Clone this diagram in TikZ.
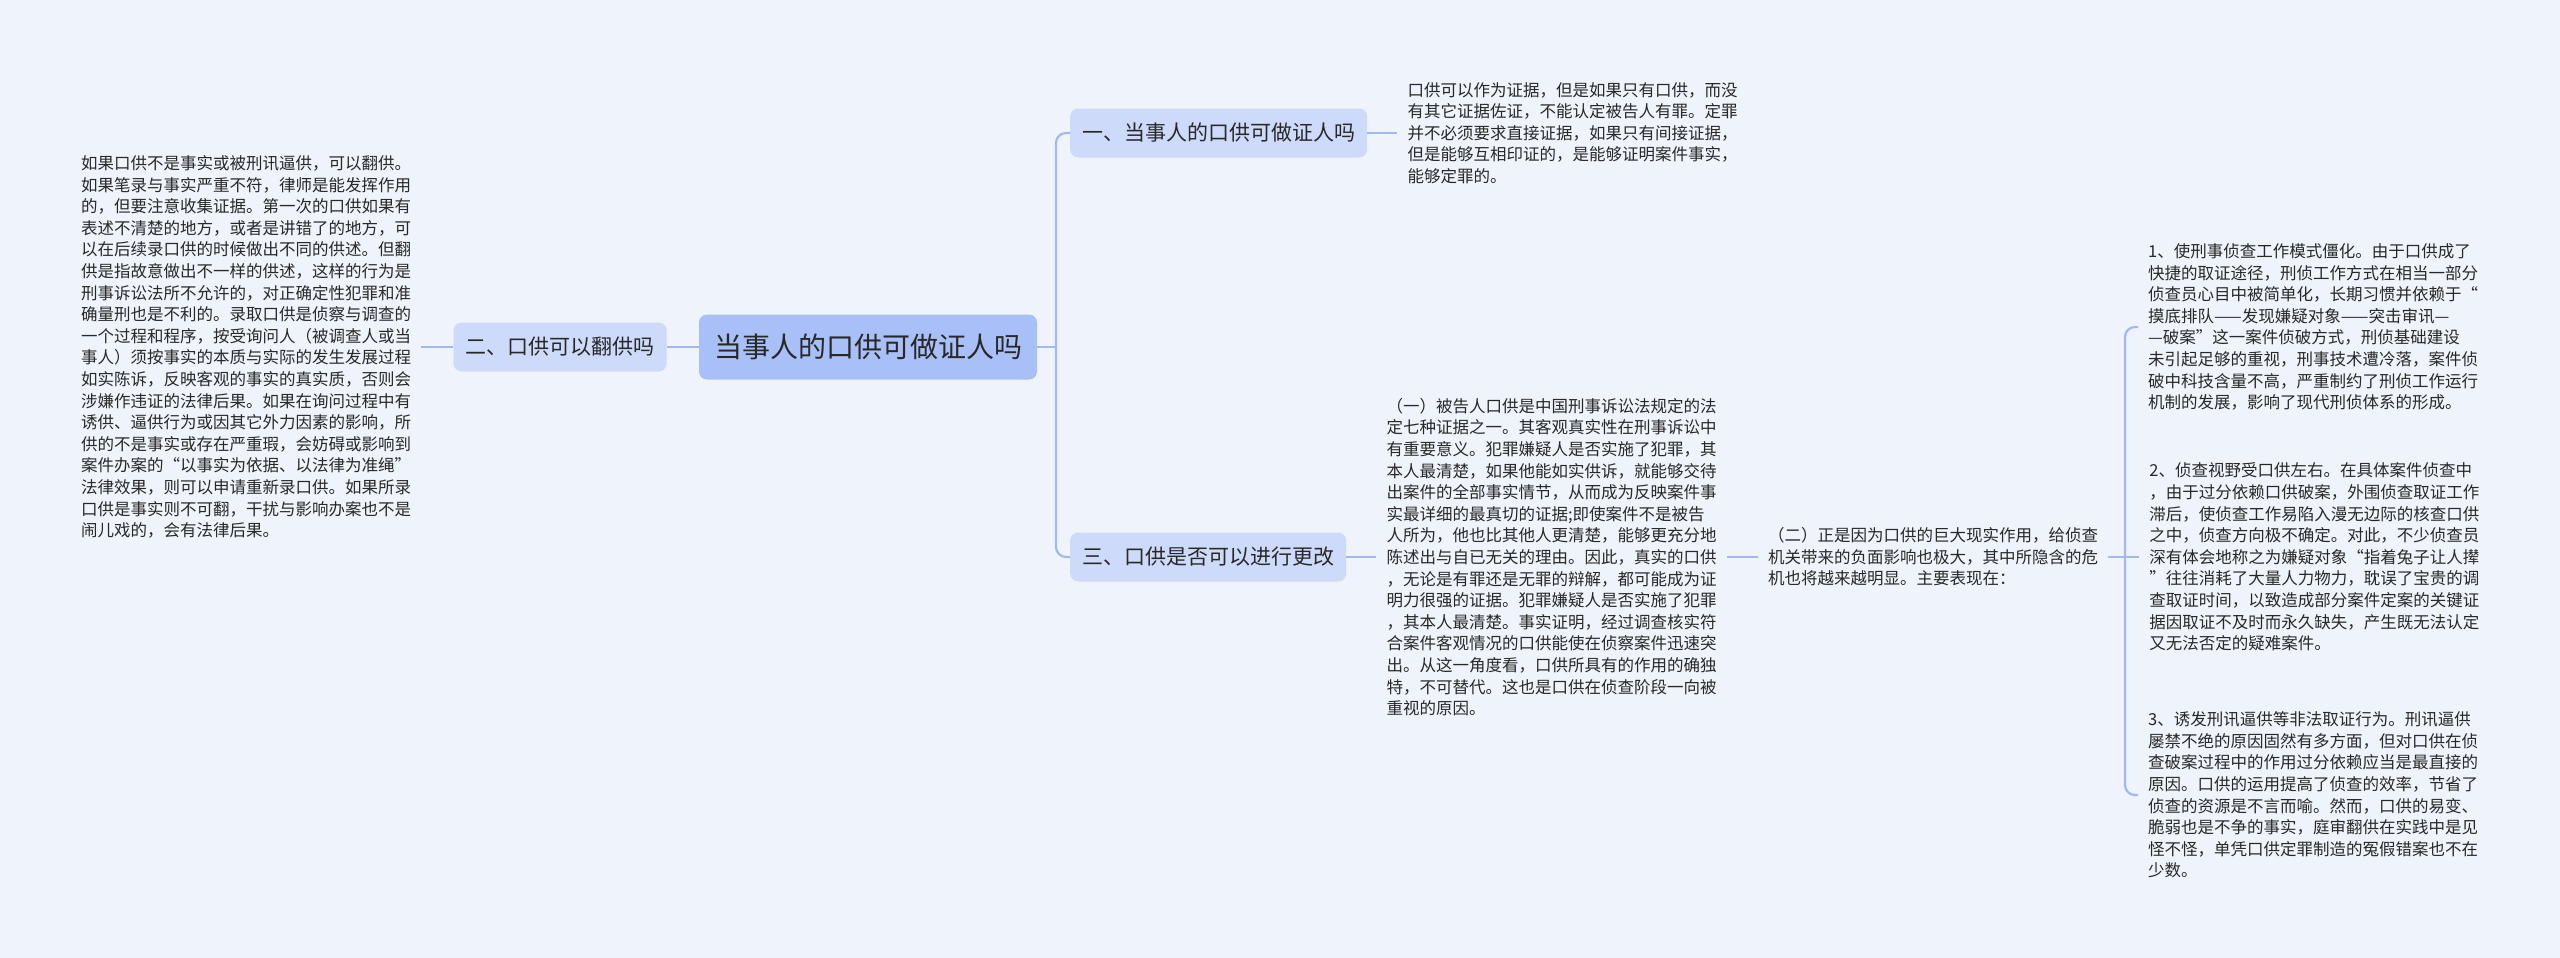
\documentclass[tikz,border=0pt]{standalone}
\usepackage{fontspec}
\setmainfont{Noto Sans CJK SC}
\usetikzlibrary{positioning}
\definecolor{bgblue}{RGB}{239,243,251}
\definecolor{rootblue}{RGB}{168,192,247}
\definecolor{topicblue}{RGB}{205,218,250}
\definecolor{linkblue}{RGB}{163,185,235}
\definecolor{inkgray}{RGB}{40,40,40}
\tikzstyle{rootbox} = [rectangle, rounded corners=8pt, fill=rootblue, text=inkgray, inner xsep=15pt, minimum height=65pt, font=\fontsize{28}{32}\selectfont]
\tikzstyle{topic} = [rectangle, rounded corners=8pt, fill=topicblue, text=inkgray, inner xsep=12pt, minimum height=49pt, font=\fontsize{21}{25}\selectfont]
\tikzstyle{note} = [align=left, inner xsep=10pt, inner ysep=0pt, text=inkgray, font=\fontsize{16.5}{21.6}\selectfont]
\tikzstyle{link} = [draw=linkblue, line width=2.2pt, rounded corners=10pt]

\begin{document}
\begin{tikzpicture}[x=1pt, y=-1pt]
    \useasboundingbox (0,0) rectangle (2560,958);
    \fill[bgblue] (0,0) rectangle (2560,958);

    % centre and first level
    \node (root) [rootbox] at (868,347) {当事人的口供可做证人吗};
    \node (two) [topic, left=32pt of root] {二、口供可以翻供吗};
    \node (one) [topic, anchor=west] at (1070,133) {一、当事人的口供可做证人吗};
    \node (three) [topic, anchor=west] at (1070,557) {三、口供是否可以进行更改};

    % texts
    \node (fanshu) [note, left=32pt of two] {如果口供不是事实或被刑讯逼供，可以翻供。\\如果笔录与事实严重不符，律师是能发挥作用\\的，但要注意收集证据。第一次的口供如果有\\表述不清楚的地方，或者是讲错了的地方，可\\以在后续录口供的时候做出不同的供述。但翻\\供是指故意做出不一样的供述，这样的行为是\\刑事诉讼法所不允许的，对正确定性犯罪和准\\确量刑也是不利的。录取口供是侦察与调查的\\一个过程和程序，按受询问人（被调查人或当\\事人）须按事实的本质与实际的发生发展过程\\如实陈诉，反映客观的事实的真实质，否则会\\涉嫌作违证的法律后果。如果在询问过程中有\\诱供、逼供行为或因其它外力因素的影响，所\\供的不是事实或存在严重瑕，会妨碍或影响到\\案件办案的“以事实为依据、以法律为准绳”\\法律效果，则可以申请重新录口供。如果所录\\口供是事实则不可翻，干扰与影响办案也不是\\闹儿戏的，会有法律后果。};
    \node (zhengju) [note, right=30pt of one] {口供可以作为证据，但是如果只有口供，而没\\有其它证据佐证，不能认定被告人有罪。定罪\\并不必须要求直接证据，如果只有间接证据，\\但是能够互相印证的，是能够证明案件事实，\\能够定罪的。};
    \node (subone) [note, right=30pt of three] {（一）被告人口供是中国刑事诉讼法规定的法\\定七种证据之一。其客观真实性在刑事诉讼中\\有重要意义。犯罪嫌疑人是否实施了犯罪，其\\本人最清楚，如果他能如实供诉，就能够交待\\出案件的全部事实情节，从而成为反映案件事\\实最详细的最真切的证据;即使案件不是被告\\人所为，他也比其他人更清楚，能够更充分地\\陈述出与自已无关的理由。因此，真实的口供\\，无论是有罪还是无罪的辩解，都可能成为证\\明力很强的证据。犯罪嫌疑人是否实施了犯罪\\，其本人最清楚。事实证明，经过调查核实符\\合案件客观情况的口供能使在侦察案件迅速突\\出。从这一角度看，口供所具有的作用的确独\\特，不可替代。这也是口供在侦查阶段一向被\\重视的原因。};
    \node (subtwo) [note, right=31pt of subone] {（二）正是因为口供的巨大现实作用，给侦查\\机关带来的负面影响也极大，其中所隐含的危\\机也将越来越明显。主要表现在：};
    \node (itemtwo) [note, right=31pt of subtwo] {2、侦查视野受口供左右。在具体案件侦查中\\，由于过分依赖口供破案，外围侦查取证工作\\滞后，使侦查工作易陷入漫无边际的核查口供\\之中，侦查方向极不确定。对此，不少侦查员\\深有体会地称之为嫌疑对象“指着兔子让人撵\\”往往消耗了大量人力物力，耽误了宝贵的调\\查取证时间，以致造成部分案件定案的关键证\\据因取证不及时而永久缺失，产生既无法认定\\又无法否定的疑难案件。};
    \node (itemone) [note, anchor=west] at (2138,327) {1、使刑事侦查工作模式僵化。由于口供成了\\快捷的取证途径，刑侦工作方式在相当一部分\\侦查员心目中被简单化，长期习惯并依赖于“\\摸底排队——发现嫌疑对象——突击审讯—\\—破案”这一案件侦破方式，刑侦基础建设\\未引起足够的重视，刑事技术遭冷落，案件侦\\破中科技含量不高，严重制约了刑侦工作运行\\机制的发展，影响了现代刑侦体系的形成。};
    \node (itemthree) [note, anchor=west] at (2138,795) {3、诱发刑讯逼供等非法取证行为。刑讯逼供\\屡禁不绝的原因固然有多方面，但对口供在侦\\查破案过程中的作用过分依赖应当是最直接的\\原因。口供的运用提高了侦查的效率，节省了\\侦查的资源是不言而喻。然而，口供的易变、\\脆弱也是不争的事实，庭审翻供在实践中是见\\怪不怪，单凭口供定罪制造的冤假错案也不在\\少数。};

    % connectors
    \coordinate (spine) at (1056,347);
    \coordinate (fork) at (2125,557);
    \draw [link] (root) -- (two);
    \draw [link] (two) -- (fanshu);
    \draw [link] (root.east) -- (spine);
    \draw [link] (spine) |- (one.west);
    \draw [link] (spine) |- (three.west);
    \draw [link] (one) -- (zhengju);
    \draw [link] (three) -- (subone);
    \draw [link] (subone) -- (subtwo);
    \draw [link] (subtwo) -- (itemtwo);
    \draw [link] (fork) |- (itemone.west);
    \draw [link] (fork) |- (itemthree.west);
\end{tikzpicture}
\end{document}
